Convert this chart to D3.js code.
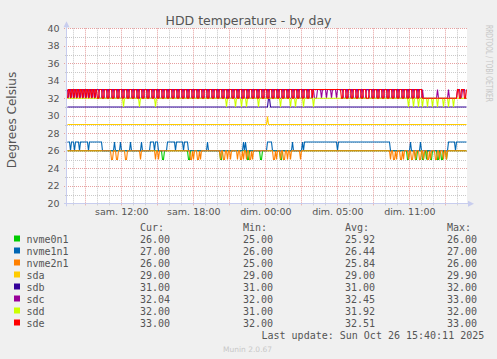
<!DOCTYPE html>
<html><head><meta charset="utf-8">
<script src="https://cdn.jsdelivr.net/npm/d3@7"></script>
<style>
html,body{margin:0;padding:0;background:#F0F0F0;}
svg{display:block;}
</style></head><body>
<svg id="chart" width="497" height="359"></svg>
<script>
// ---------- DATA ----------
const seriesNames  = ["nvme0n1","nvme1n1","nvme2n1","sda","sdb","sdc","sdd","sde"];
const seriesColors = ["#00CC00","#0066B3","#FF8000","#FFCC00","#330099","#990099","#CCFF00","#FF0000"];
// each sample string: one digit per 5-minute sample, value = base + digit*step
const seriesBase = [20, 20, 20, 29, 30, 30, 30, 30];
const seriesStep = [1, 1, 1, 0.1, 1, 1, 1, 1];

const nvme0n1 = [
 "6666666666 6666666666 6666666666 6666666666 6666666666",
 "6666666666 6666666666 6666666666 6666666666 6666655666",
 "6666666666 6666666666 6556666666 6666666666 6666666666",
 "6665566666 6666666666 6666666666 5566666666 6665566666",
 "6666666666 6665566666 6666666666 6666666666 6666666666",
 "6666666666 6666666666 6666666666 6666666666 6666666666",
 "6666666666 6666666666 6666666666 6666666666 5566666655",
 "6666655665 6665566666 5566556665 6666666666 6666666666"];
const nvme1n1 = [
 "7776777677 7767777777 7677777777 7777766666 6666666766",
 "6667666666 6667666666 6666766666 6667777677 7666666666",
 "7777777767 7777776777 7666666666 6666666666 7666666666",
 "6666666666 6666666666 6666667676 6666666666 6666666666",
 "7777766666 6666666666 6666676666 6666676777 7777777777",
 "7777777777 7777777777 6777777777 7777777777 7777777777",
 "7777777777 7777777777 7776666666 6666666666 6667666666",
 "6667666666 6666666666 6666666666 6777777767 7777777777"];
const nvme2n1 = [
 "6666666666 6666666666 6666666666 6666666666 6666556665",
 "5666666655 6666666666 6665666666 6666666656 6566666666",
 "6666666666 6666666666 6665565666 5565666666 6666666666",
 "6665665566 5665666666 5665565665 6655656666 6666666666",
 "6666665565 6665665566 5665666666 6665666666 6666666666",
 "6666666666 6666666666 6666666666 6666666666 6666666666",
 "6666666666 6666666666 6665665565 6665565666 6566556656",
 "6655665666 5565666655 6656665665 6666666666 6666666666"];
const sda = [
 "0000000000 0000000000 0000000000 0000000000 0000000000",
 "0000000000 0000000000 0000000000 0000000000 0000000000",
 "0000000000 0000000000 0000000000 0000000000 0000000000",
 "0000000000 0000000000 0000000000 0000000000 0000000000",
 "9000000000 0000000000 0000000000 0000000000 0000000000",
 "0000000000 0000000000 0000000000 0000000000 0000000000",
 "0000000000 0000000000 0000000000 0000000000 0000000000",
 "0000000000 0000000000 0000000000 0000000000 0000000000"];
const sdb = [
 "1111111111 1111111111 1111111111 1111111111 1111111111",
 "1111111111 1111111111 1111111111 1111111111 1111111111",
 "1111111111 1111111111 1111111111 1111111111 1111111111",
 "1111111111 1111111111 1111111111 1111111111 1111111111",
 "1221111111 1111111111 1111111111 1111111111 1111111111",
 "1111111111 1111111111 1111111111 1111111111 1111111111",
 "1111111111 1111111111 1111111111 1111111111 1111111111",
 "1111111111 1111111111 1111111111 1111111111 1111111111"];
const sdc = [
 "3233233233 2332332332 3323323323 3322233222 3322233222",
 "3322233222 3322233222 3322233222 3322233222 3322233222",
 "3322233222 3322233222 3322233222 3322233222 3322233222",
 "3322233222 3322233222 3322233222 3322233222 3322233222",
 "3322233222 3322233222 3322233222 3322233222 3322233222",
 "3333233332 3333233332 3333332223 3222332223 3222332223",
 "3322233222 3322233222 3322233222 3322233222 3322233222",
 "3322232222 2222222222 3222222222 2322222222 3332233322"];
const sdd = [
 "2222222222 2222222222 2222222222 2222222222 2222222222",
 "2222221222 2222222222 2212222222 2222222212 2222222222",
 "2222222222 2222222222 2222222222 2222222222 2222222222",
 "2222222221 2222222212 2222122221 2222222222 2122222222",
 "2222222222 2221222222 2221222212 2222221222 2222221222",
 "2222222222 2222222222 2222222222 2222222222 2222222222",
 "2222222222 2222222222 2222222222 2222222222 2122221222",
 "2122212222 1222212222 1222221222 2122221222 2222222222"];
const sde = [
 "2332332332 3323323323 3233233233 2233322333 2233322333",
 "2233322333 2233322333 2233322333 2233322333 2233322333",
 "2233322333 2233322333 2233322333 2233322333 2233322333",
 "2233322333 2233322333 2233322333 2233322333 2233322333",
 "2233322333 2233322333 2233322333 2233322333 2233323333",
 "3333333333 3333333333 3333223332 2333223332 2333223332",
 "2233322333 2233322333 2233322333 2233322333 2233322333",
 "2233322222 2222222222 2222222222 2222222222 3322333223"];
const seriesSamples = [nvme0n1, nvme1n1, nvme2n1, sda, sdb, sdc, sdd, sde];

const startHour = 7.475;      // hours after Sat 00:00, first sample
const stepHours = 5 / 60;     // 5-minute samples
const spanHours = 400 * stepHours;

const yTicks = [20,22,24,26,28,30,32,34,36,38,40];
const xTickHours  = [12, 18, 24, 30, 36];
const xTickLabels = ["sam. 12:00","sam. 18:00","dim. 00:00","dim. 05:00","dim. 11:00"];

const legendCur = ["26.00","27.00","26.00","29.00","31.00","32.04","32.00","33.00"];
const legendMin = ["25.00","26.00","25.00","29.00","31.00","32.00","31.00","32.00"];
const legendAvg = ["25.92","26.44","25.84","29.00","31.00","32.45","31.92","32.51"];
const legendMax = ["26.00","27.00","26.00","29.90","32.00","33.00","32.00","33.00"];

// ---------- DRAW ----------
const svg = d3.select("#chart");
const L = 67, R = 467, T = 28.3, B = 203.3;
const x = d3.scaleLinear().domain([startHour, startHour + spanHours]).range([L, R]);
const y = d3.scaleLinear().domain([20, 40]).range([B, T]);

svg.append("rect").attr("width",497).attr("height",359).attr("fill","#F0F0F0");
svg.append("rect").attr("x",L).attr("y",T).attr("width",R-L).attr("height",B-T).attr("fill","#FFFFFF");

// grid
const gridG = svg.append("g");
const minorY = d3.range(21, 40, 2);
gridG.selectAll(".gy").data(minorY).join("line")
  .attr("x1",L-2).attr("x2",R).attr("y1",d=>Math.round(y(d))+0.5).attr("y2",d=>Math.round(y(d))+0.5)
  .attr("stroke","#C8C8C8").attr("stroke-dasharray","1,1");
const hours = d3.range(Math.ceil(startHour), startHour+spanHours, 1);
gridG.selectAll(".gx").data(hours.filter(h=>h%3!==0)).join("line")
  .attr("x1",d=>Math.round(x(d))+0.5).attr("x2",d=>Math.round(x(d))+0.5).attr("y1",T).attr("y2",B+2)
  .attr("stroke","#C8C8C8").attr("stroke-dasharray","1,1");
gridG.selectAll(".gY").data(yTicks).join("line")
  .attr("x1",L-3).attr("x2",R).attr("y1",d=>Math.round(y(d))+0.5).attr("y2",d=>Math.round(y(d))+0.5)
  .attr("stroke","#E6A0A0").attr("stroke-dasharray","1,1");
gridG.selectAll(".gX").data(hours.filter(h=>h%3===0)).join("line")
  .attr("x1",d=>Math.round(x(d))+0.5).attr("x2",d=>Math.round(x(d))+0.5).attr("y1",T).attr("y2",B+3)
  .attr("stroke","#E6A0A0").attr("stroke-dasharray","1,1");

// series
function decode(chunks, base, step) {
  return chunks.join("").replace(/\s+/g,"").split("").map(c => base + (+c) * step);
}
const line = d3.line().x(d=>x(d[0])).y(d=>y(d[1]));
seriesSamples.forEach((chunks, k) => {
  const vals = decode(chunks, seriesBase[k], seriesStep[k]);
  const pts = vals.map((v,i)=>[startHour + (i+0.5)*stepHours, v]);
  svg.append("path").datum(pts).attr("d", line)
    .attr("fill","none").attr("stroke", seriesColors[k]).attr("stroke-width",1.1);
});

// axes lines + arrows
const axisColor = "#C8CDEE";
svg.append("line").attr("x1",L-0.5).attr("x2",L-0.5).attr("y1",B+3).attr("y2",T-4).attr("stroke",axisColor);
svg.append("line").attr("x1",L-3).attr("x2",R+2).attr("y1",Math.round(B)+0.5).attr("y2",Math.round(B)+0.5).attr("stroke",axisColor);
svg.append("path").attr("d",`M${L-3.5},${T-1} L${L+2.5},${T-1} L${L-0.5},${T-7} Z`).attr("fill",axisColor);
svg.append("path").attr("d",`M${R+1},${B-2.5} L${R+1},${B+3.5} L${R+7},${B+0.5} Z`).attr("fill",axisColor);

// axis labels
const font = "DejaVu Sans, sans-serif";
const yAxis = d3.axisLeft(y).tickValues(yTicks).tickSize(0).tickPadding(7);
const yg = svg.append("g").attr("transform",`translate(${L-0.5},0)`).call(yAxis);
yg.select(".domain").remove();
yg.selectAll("text").attr("font-family",font).attr("font-size","9.5px").attr("fill","#555");

const xAxis = d3.axisBottom(x).tickValues(xTickHours).tickFormat((d,i)=>xTickLabels[i]).tickSize(0).tickPadding(5);
const xg = svg.append("g").attr("transform",`translate(0,${B})`).call(xAxis);
xg.select(".domain").remove();
xg.selectAll("text").attr("font-family",font).attr("font-size","9.5px").attr("fill","#555");

// title
svg.append("text").attr("x",248.5).attr("y",24.5).attr("text-anchor","middle")
  .attr("font-family",font).attr("font-size","12.5px").attr("fill","#555").text("HDD temperature - by day");
// y label
svg.append("text").attr("transform","translate(15.5,120) rotate(-90)").attr("text-anchor","middle")
  .attr("font-family",font).attr("font-size","12px").attr("fill","#555").text("Degrees Celsius");
// right credit
svg.append("text").attr("transform","translate(485.5,25) rotate(90)")
  .attr("font-family",font).attr("font-size","8px").attr("fill","#C8C8C8")
  .attr("textLength",77).attr("lengthAdjust","spacingAndGlyphs").text("RRDTOOL / TOBI OETIKER");

// legend
const mono = "DejaVu Sans Mono, monospace";
const lg = svg.append("g").attr("font-family",mono).attr("font-size","10px").attr("fill","#555");
const colX = [140, 243, 345, 447];
["Cur:","Min:","Avg:","Max:"].forEach((h,j)=>lg.append("text").attr("x",colX[j]).attr("y",231).text(h));
seriesNames.forEach((n,k)=>{
  const yy = 243 + k*12;
  svg.append("rect").attr("x",14).attr("y",yy-7.5).attr("width",6).attr("height",6).attr("fill",seriesColors[k]);
  lg.append("text").attr("x",26.5).attr("y",yy).text(n);
  [legendCur,legendMin,legendAvg,legendMax].forEach((arr,j)=>lg.append("text").attr("x",colX[j]).attr("y",yy).text(arr[k]));
});
lg.append("text").attr("x",261.5).attr("y",338.5).text("Last update: Sun Oct 26 15:40:11 2025");
svg.append("text").attr("x",223).attr("y",351.5).attr("font-family",font).attr("font-size","7.5px")
  .attr("fill","#C8C8C8").text("Munin 2.0.67");
</script>
</body></html>
